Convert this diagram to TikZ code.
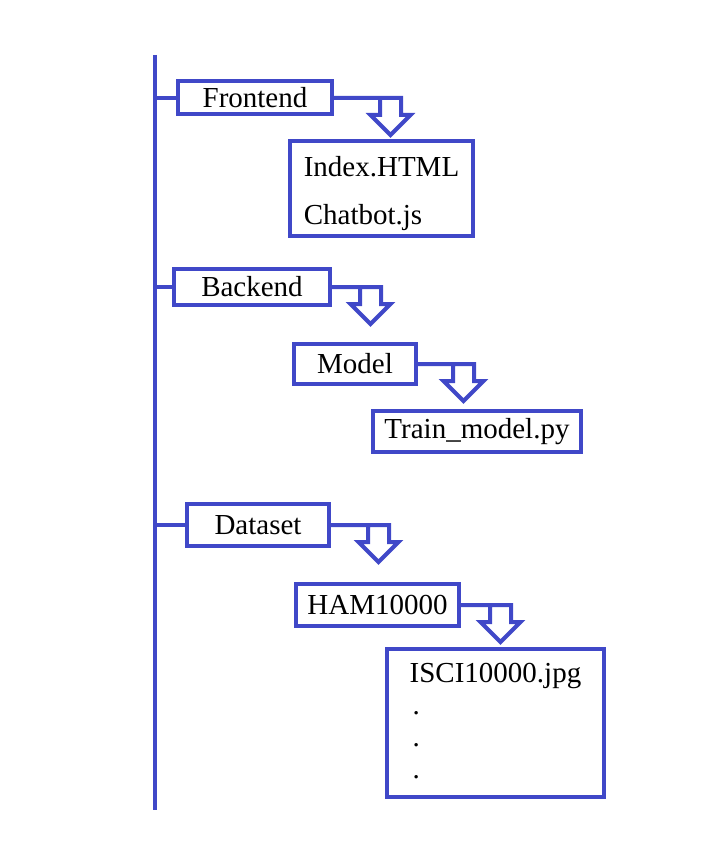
\documentclass[tikz,border=0pt]{standalone}
\usepackage{fontspec}
\setmainfont{Liberation Serif}
\definecolor{bleu}{RGB}{64,72,200}
\tikzset{
  treenode/.style = {align=left, inner sep=0pt, draw=bleu, line width=4pt,
    font=\fontsize{29}{32}\selectfont},
  dir_n/.style = {treenode, minimum height=36pt},% dossier
  file_n/.style = {treenode},% fichier, boite haute
  lien/.style = {draw=bleu, line width=4pt}% trait bleu
}
% fleche creuse vers le bas, #2 = longueur du trait
\newcommand{\flechebas}[2]{\draw[lien] (#1.east) -- ++(#2,0) -- ++(0,17)
  -- ++(9.5,0) -- ++(-20,20) -- ++(-20,-20) -- ++(9.5,0) -- ++(0,-17);}

\begin{document}
\begin{tikzpicture}[x=1pt, y=-1pt]
\useasboundingbox (0,0) rectangle (727,864);
\coordinate (tronc) at (155,55);
\draw[lien] (tronc) -- (155,810);

\node [dir_n, minimum width=154pt, minimum height=33pt] (front) at (255,98) {Frontend};
\node [file_n, minimum width=183pt, minimum height=95pt] (index) at (381.5,188.5)
  {\rule{0pt}{30pt}Index.HTML\\[16pt]Chatbot.js};
\node [dir_n, minimum width=156pt] (back) at (252,287) {Backend};
\node [dir_n, minimum width=122pt, minimum height=40pt] (model) at (355,364) {Model};
\node [dir_n, minimum width=208pt, minimum height=41pt] (train) at (477,431.5) {Train\_model.py};
\node [dir_n, minimum width=142pt, minimum height=42pt] (data) at (258,525) {Dataset};
\node [dir_n, minimum width=163pt, minimum height=42pt] (ham) at (377.5,605) {HAM10000};
\node [file_n, minimum width=217pt, minimum height=148pt] (isci) at (495.5,723)
  {\rule{0pt}{26pt}ISCI10000.jpg\\\hspace{3pt}.\\\hspace{3pt}.\\\hspace{3pt}.\rule[-12pt]{0pt}{0pt}};

\foreach \n in {front, back, data}
  \draw[lien] (\n.west) -- (\n.west -| tronc);

\flechebas{front}{67}
\flechebas{back}{49}
\flechebas{model}{56}
\flechebas{data}{58}
\flechebas{ham}{50}
\end{tikzpicture}
\end{document}
